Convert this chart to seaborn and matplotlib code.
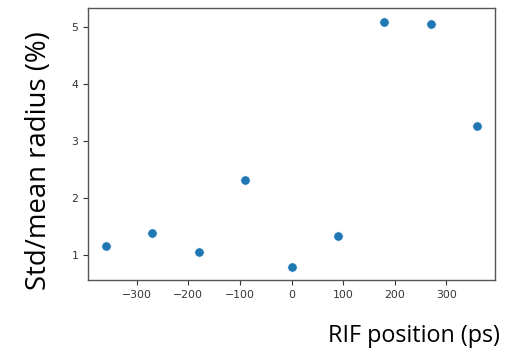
import matplotlib
matplotlib.use("Agg")
import matplotlib.pyplot as plt
import seaborn as sns
import pandas as pd

rif_position = [-360, -270, -180, -90, 0, 90, 180, 270, 360]
std_mean_radius = [1.16, 1.39, 1.05, 2.31, 0.79, 1.33, 5.09, 5.05, 3.26]
x_ticks = [-300, -200, -100, 0, 100, 200, 300]
y_ticks = [1, 2, 3, 4, 5]

df = pd.DataFrame({"x": rif_position, "y": std_mean_radius})

sns.set_style("ticks")
plt.rcParams["font.family"] = ["DejaVu Sans"]

fig = plt.figure(figsize=(5.31, 3.51), dpi=100)
W, H = 531, 351
ax = fig.add_axes([88 / W, 1 - 280 / H, (495 - 88) / W, (280 - 8) / H])
sns.scatterplot(data=df, x="x", y="y", ax=ax, color="#1f77b4", s=46,
                edgecolor="white", linewidth=0.5)
ax.set_xlim(-394, 394)
ax.set_ylim(0.56, 5.33)
ax.set_xticks(x_ticks)
ax.set_yticks(y_ticks)
ax.set_xlabel("")
ax.set_ylabel("")
ax.tick_params(labelsize=7.8, colors="#333333", length=3.5, width=0.8)
for sp in ax.spines.values():
    sp.set_color("#555555")
    sp.set_linewidth(1.0)

lab_font = ["Open Sans", "DejaVu Sans"]
xl = fig.text(500 / W, 1 - 336 / H, "RIF position (ps)", ha="right", va="center",
              fontsize=15, family=lab_font, color="black")
yl = fig.text(39.5 / W, 1 - 161 / H, "Std/mean radius (%)", ha="center", va="center",
              rotation=90, fontsize=15, family=lab_font, color="black")

fig.canvas.draw()
r = fig.canvas.get_renderer()
wx = xl.get_window_extent(r).width
xl.set_fontsize(15 * 173 / wx)
hy = yl.get_window_extent(r).height
yl.set_fontsize(15 * 258 / hy)

fig.savefig("out.png", dpi=100)
